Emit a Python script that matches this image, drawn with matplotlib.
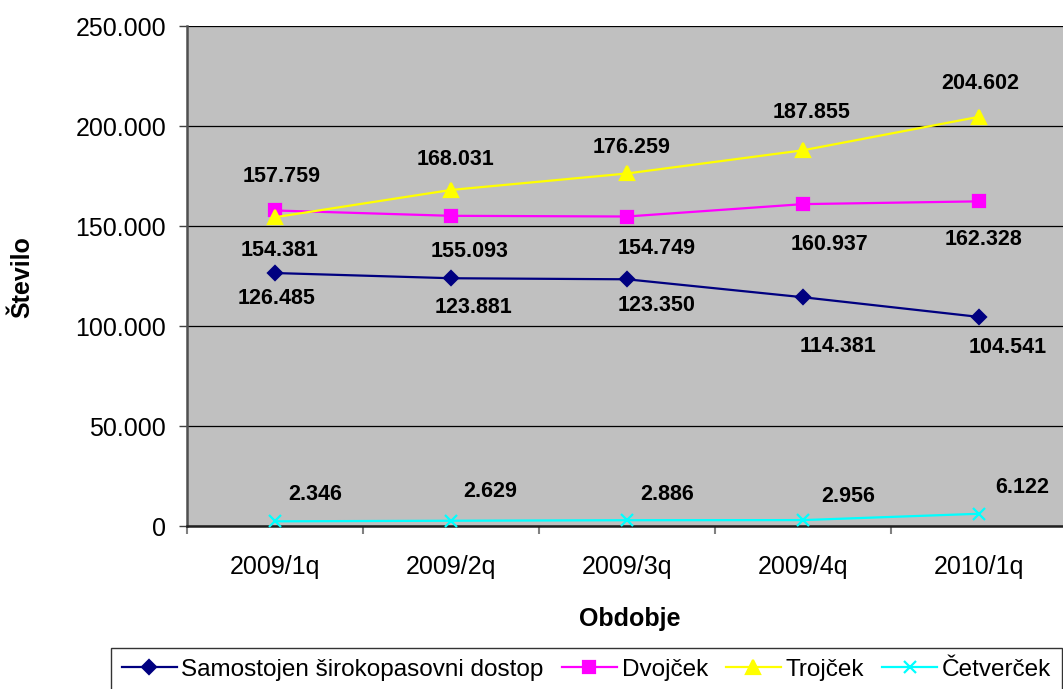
import matplotlib
matplotlib.use('Agg')
import matplotlib.pyplot as plt
from matplotlib.ticker import FixedLocator, FuncFormatter

plt.rcParams['font.family'] = ['Liberation Sans', 'DejaVu Sans']

# data
obdobja = ['2009/1q', '2009/2q', '2009/3q', '2009/4q', '2010/1q']
samostojen = [126485, 123881, 123350, 114381, 104541]
dvojcek = [157759, 155093, 154749, 160937, 162328]
trojcek = [154381, 168031, 176259, 187855, 204602]
cetvercek = [2346, 2629, 2886, 2956, 6122]
imena = ['Samostojen širokopasovni dostop', 'Dvojček', 'Trojček', 'Četverček']

# label offsets from point, in pixels (dx right, dy down)
off_sam = [(2, 25), (22, 29), (30, 26), (35, 49), (29, 31)]
off_dvo = [(7, -34), (19, 36), (30, 32), (27, 40), (5, 38)]
off_tro = [(5, 33), (5, -30), (5, -26), (9, -38), (1, -33)]
off_cet = [(40, -27), (39, -29), (40, -26), (45, -24), (43, -26)]

W, H, DPI = 1063, 689, 100


def fmt(v, pos=None):
    return f'{v:,.0f}'.replace(',', '.')


fig = plt.figure(figsize=(W / DPI, H / DPI), dpi=DPI)
ax = fig.add_axes([187 / W, 163 / H, 880 / W, 500 / H])
ax.set_facecolor('#C0C0C0')

x = list(range(len(obdobja)))
serije = [
    (samostojen, '#000080', 'D', 7.5, off_sam),
    (dvojcek, '#FF00FF', 's', 8, off_dvo),
    (trojcek, '#FFFF00', '^', 10, off_tro),
    (cetvercek, '#00FFFF', 'x', 9, off_cet),
]
for (vals, col, mk, ms, offs), ime in zip(serije, imena):
    ax.plot(x, vals, color=col, lw=1.6, marker=mk, ms=ms, mfc=col, mec=col,
            mew=1.6, label=ime, zorder=3, clip_on=False)
    for xi, v, (dx, dy) in zip(x, vals, offs):
        ax.annotate(fmt(v), (xi, v), xytext=(dx * 72 / DPI, -dy * 72 / DPI),
                    textcoords='offset points', ha='center', va='center',
                    fontsize=15.5, fontweight='bold', zorder=4)

ax.set_xlim(-0.5, 4.5)
ax.set_ylim(0, 250000)
ax.yaxis.set_major_locator(FixedLocator([0, 50000, 100000, 150000, 200000, 250000]))
ax.yaxis.set_major_formatter(FuncFormatter(fmt))
ax.grid(axis='y', color='black', lw=0.9, zorder=1)
ax.set_axisbelow(True)

ax.set_xticks(x)
ax.set_xticklabels(obdobja)
ax.set_xticks([-0.5, 0.5, 1.5, 2.5, 3.5, 4.5], minor=True)
ax.tick_params(axis='x', which='major', length=0, pad=21, labelsize=18)
ax.tick_params(axis='x', which='minor', length=6, width=1.5, color='#808080', direction='out')
ax.tick_params(axis='y', length=6, width=1, color='#404040', pad=9, labelsize=18)

for s in ['top', 'right']:
    ax.spines[s].set_visible(False)
ax.spines['left'].set_color('#505050')
ax.spines['left'].set_linewidth(1.8)
ax.spines['bottom'].set_color('#202020')
ax.spines['bottom'].set_linewidth(1.8)

fig.text(22 / W, 1 - 277 / H, 'Število', rotation=90, ha='center', va='center',
         fontsize=18, fontweight='bold')
fig.text(630 / W, 1 - 619 / H, 'Obdobje', ha='center', va='center',
         fontsize=18, fontweight='bold')

leg = fig.legend(loc='upper left', bbox_to_anchor=(111 / W, 1 - 648 / H), ncol=4,
                 fontsize=17.5, frameon=True, fancybox=False, shadow=False,
                 handlelength=2.25, handletextpad=0.2, columnspacing=0.75,
                 borderpad=0.45, borderaxespad=0)
leg.get_frame().set_edgecolor('black')
leg.get_frame().set_linewidth(1.0)

fig.savefig('out.png', dpi=DPI)
